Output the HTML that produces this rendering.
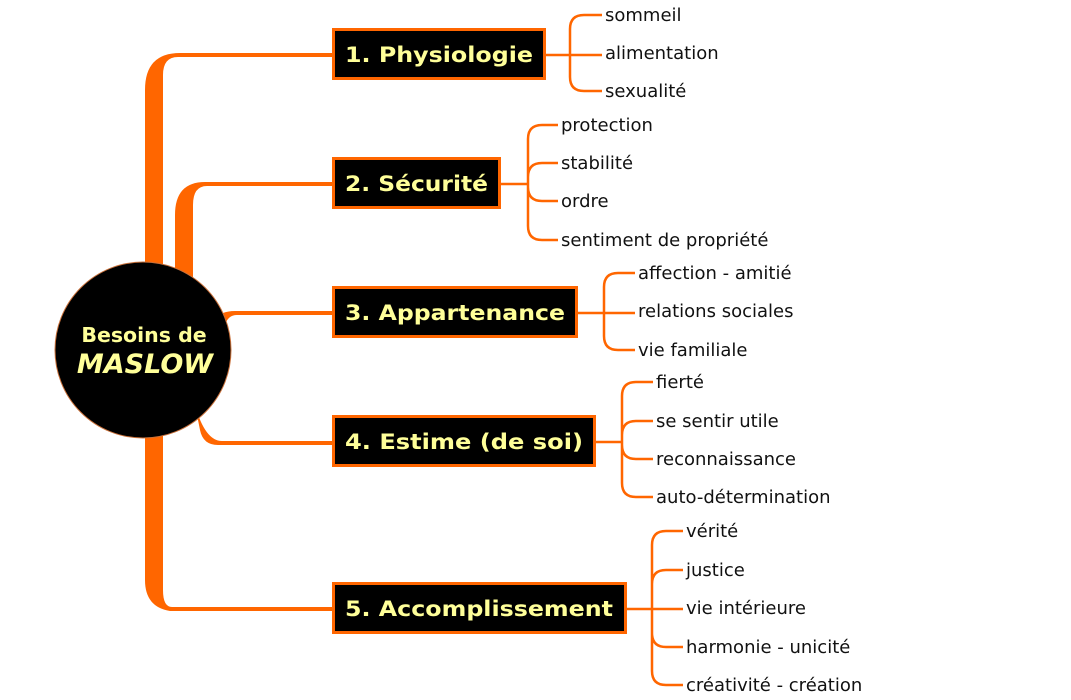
<!DOCTYPE html>
<html><head><meta charset="utf-8"><style>
html,body{margin:0;padding:0;background:#fff;}
svg{display:block;}
.t{font-family:"DejaVu Sans","Liberation Sans",sans-serif;font-size:18px;fill:#111;}
.b{font-family:"DejaVu Sans","Liberation Sans",sans-serif;font-weight:bold;font-size:21px;fill:#ffff99;}
.l{fill:none;stroke:#ff6600;stroke-width:2.5;}
</style></head><body>
<svg width="1071" height="700" viewBox="0 0 1071 700" xmlns="http://www.w3.org/2000/svg">
<path d="M145,300 V90 Q145,53 180,53 H332 V57 H178 Q163,57 163,75 V300 Z" fill="#ff6600"/>
<path d="M175,300 V215 Q175,182 205,182 H332 V186 H207 Q193,186 193,205 V300 Z" fill="#ff6600"/>
<path d="M215,320 Q220,311 235,311 H332 V315 H237 Q228,315 225,325 Z" fill="#ff6600"/>
<path d="M195,405 Q205,441 222,441 H332 V445 H218 Q203,445 200,430 Z" fill="#ff6600"/>
<path d="M145,400 V580 Q145,607 170,611 H332 V607 H172 Q163,607 163,590 V400 Z" fill="#ff6600"/>
<circle cx="143" cy="350" r="88" fill="#000" stroke="#c8703a" stroke-width="1"/>
<text x="144" y="342" text-anchor="middle" style="font-family:'DejaVu Sans',sans-serif;font-weight:bold;font-size:20.5px;fill:#ffff99">Besoins de</text>
<text x="145" y="373" text-anchor="middle" style="font-family:'DejaVu Sans',sans-serif;font-weight:bold;font-style:italic;font-size:27px;fill:#ffff99">MASLOW</text>
<rect x="333.5" y="29.5" width="211" height="49" fill="#000" stroke="#ff6600" stroke-width="3"/>
<text class="b" x="345" y="62" textLength="188" lengthAdjust="spacingAndGlyphs">1. Physiologie</text>
<rect x="333.5" y="158.5" width="166" height="49" fill="#000" stroke="#ff6600" stroke-width="3"/>
<text class="b" x="345" y="191" textLength="143" lengthAdjust="spacingAndGlyphs">2. Sécurité</text>
<rect x="333.5" y="287.5" width="243" height="49" fill="#000" stroke="#ff6600" stroke-width="3"/>
<text class="b" x="345" y="320" textLength="220" lengthAdjust="spacingAndGlyphs">3. Appartenance</text>
<rect x="333.5" y="416.5" width="261" height="49" fill="#000" stroke="#ff6600" stroke-width="3"/>
<text class="b" x="345" y="449" textLength="238" lengthAdjust="spacingAndGlyphs">4. Estime (de soi)</text>
<rect x="333.5" y="583.5" width="292" height="49" fill="#000" stroke="#ff6600" stroke-width="3"/>
<text class="b" x="345" y="616" textLength="268" lengthAdjust="spacingAndGlyphs">5. Accomplissement</text>
<path class="l" d="M546,55 H602 M570,55 V29 Q570,15 584,15 H602 M570,55 V77 Q570,91 584,91 H602"/>
<text class="t" x="605" y="21">sommeil</text>
<text class="t" x="605" y="59">alimentation</text>
<text class="t" x="605" y="97">sexualité</text>
<path class="l" d="M501,184 H528 M528,184 V139 Q528,125 542,125 H558 M528,184 V177 Q528,163 542,163 H558 M528,184 V187 Q528,201 542,201 H558 M528,184 V226 Q528,240 542,240 H558"/>
<text class="t" x="561" y="131">protection</text>
<text class="t" x="561" y="169">stabilité</text>
<text class="t" x="561" y="207">ordre</text>
<text class="t" x="561" y="246">sentiment de propriété</text>
<path class="l" d="M578,313 H635 M604,313 V287 Q604,273 618,273 H635 M604,313 V336 Q604,350 618,350 H635"/>
<text class="t" x="638" y="279">affection - amitié</text>
<text class="t" x="638" y="317">relations sociales</text>
<text class="t" x="638" y="356">vie familiale</text>
<path class="l" d="M596,442 H622 M622,442 V396 Q622,382 636,382 H653 M622,442 V435 Q622,421 636,421 H653 M622,442 V445 Q622,459 636,459 H653 M622,442 V483 Q622,497 636,497 H653"/>
<text class="t" x="656" y="388">fierté</text>
<text class="t" x="656" y="427">se sentir utile</text>
<text class="t" x="656" y="465">reconnaissance</text>
<text class="t" x="656" y="503">auto-détermination</text>
<path class="l" d="M627,609 H683 M652,609 V545 Q652,531 666,531 H683 M652,609 V584 Q652,570 666,570 H683 M652,609 V633 Q652,647 666,647 H683 M652,609 V671 Q652,685 666,685 H683"/>
<text class="t" x="686" y="537">vérité</text>
<text class="t" x="686" y="576">justice</text>
<text class="t" x="686" y="614">vie intérieure</text>
<text class="t" x="686" y="653">harmonie - unicité</text>
<text class="t" x="686" y="691">créativité - création</text>
</svg>
</body></html>
